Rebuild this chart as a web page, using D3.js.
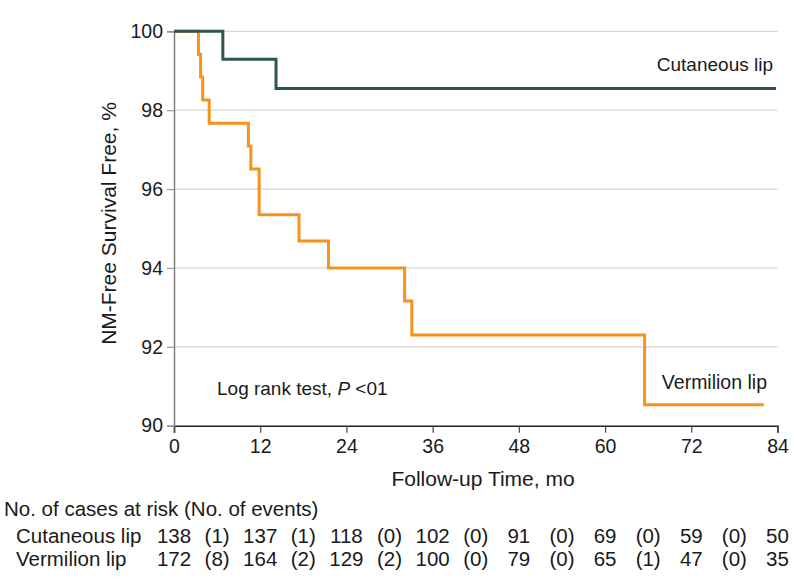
<!DOCTYPE html>
<html>
<head>
<meta charset="utf-8">
<script src="https://cdn.jsdelivr.net/npm/d3@7"></script>
<style>
  html, body { margin: 0; padding: 0; background: #fff; }
  svg { display: block; font-family: "Liberation Sans", Arial, sans-serif; }
</style>
</head>
<body>
<svg id="chart" width="794" height="588"></svg>
<script>
// ---- data ----
const cutaneousTimes = [0, 6.8, 14.2, 83.8];
const cutaneousSurvival = [100, 99.29, 98.55, 98.55];

const vermilionTimes = [0, 3.4, 3.7, 4.0, 4.9, 10.35, 10.7, 11.85, 17.4, 21.5, 32.1, 33.1, 65.5, 82.1];
const vermilionSurvival = [100, 99.42, 98.84, 98.26, 97.67, 97.09, 96.51, 95.35, 94.68, 94.0, 93.16, 92.3, 90.53, 90.53];

const xTicks = [0, 12, 24, 36, 48, 60, 72, 84];
const yTicks = [90, 92, 94, 96, 98, 100];

const riskTimes = [0, 12, 24, 36, 48, 60, 72, 84];
const cutaneousAtRisk = [138, 137, 118, 102, 91, 69, 59, 50];
const cutaneousEvents = [1, 1, 0, 0, 0, 0, 0];
const vermilionAtRisk = [172, 164, 129, 100, 79, 65, 47, 35];
const vermilionEvents = [8, 2, 2, 0, 0, 1, 0];

const seriesNames = ["Cutaneous lip", "Vermilion lip"];

// ---- layout ----
const svg = d3.select("#chart");
const plotLeft = 174, plotRight = 777.5, plotTop = 31.3, plotBottom = 425.7;
const x = d3.scaleLinear().domain([0, 84]).range([plotLeft, plotRight]);
const y = d3.scaleLinear().domain([90, 100]).range([plotBottom, plotTop]);
const textColor = "#1a1a1a";

// gridlines
svg.append("g").selectAll("line")
  .data(yTicks.filter(d => d > 90))
  .join("line")
  .attr("x1", plotLeft).attr("x2", plotRight)
  .attr("y1", d => y(d)).attr("y2", d => y(d))
  .attr("stroke", "#d6d6d6").attr("stroke-width", 1.3);

// x axis
const xAxis = svg.append("g").attr("transform", `translate(0,${plotBottom})`)
  .call(d3.axisBottom(x).tickValues(xTicks).tickSize(7).tickPadding(6));
xAxis.select(".domain").attr("stroke", "#222").attr("stroke-width", 1.5);
xAxis.selectAll(".tick line").attr("stroke", "#444").attr("stroke-width", 1.2);
xAxis.selectAll(".tick text").attr("font-size", 19.5).attr("fill", textColor)
  .attr("font-family", "Liberation Sans, Arial, sans-serif");

// y axis
const yAxis = svg.append("g").attr("transform", `translate(${plotLeft},0)`)
  .call(d3.axisLeft(y).tickValues(yTicks).tickSize(7).tickPadding(4).tickFormat(d3.format("d")));
yAxis.select(".domain").attr("stroke", "#7f7f7f").attr("stroke-width", 1.5);
yAxis.selectAll(".tick line").attr("stroke", "#9a9a9a").attr("stroke-width", 1.2);
yAxis.selectAll(".tick text").attr("font-size", 19.5).attr("fill", textColor)
  .attr("font-family", "Liberation Sans, Arial, sans-serif");

// curves
const line = d3.line()
  .x(d => x(d[0])).y(d => y(d[1]))
  .curve(d3.curveStepAfter);

const cutData = cutaneousTimes.map((t, i) => [t, cutaneousSurvival[i]]);
const verData = vermilionTimes.map((t, i) => [t, vermilionSurvival[i]]);

svg.append("path").datum(verData)
  .attr("d", line).attr("fill", "none")
  .attr("stroke", "#f6921e").attr("stroke-width", 3);
svg.append("path").datum(cutData)
  .attr("d", line).attr("fill", "none")
  .attr("stroke", "#2e5653").attr("stroke-width", 3);

// series labels
svg.append("text").attr("x", 773).attr("y", 71)
  .attr("text-anchor", "end").attr("font-size", 19).attr("fill", textColor)
  .text(seriesNames[0]);
svg.append("text").attr("x", 767).attr("y", 389)
  .attr("text-anchor", "end").attr("font-size", 19.5).attr("fill", textColor)
  .text(seriesNames[1]);

// log rank annotation
const lr = svg.append("text").attr("x", 217).attr("y", 395)
  .attr("font-size", 19).attr("fill", textColor);
lr.append("tspan").text("Log rank test, ");
lr.append("tspan").attr("font-style", "italic").text("P");
lr.append("tspan").text(" <01");

// axis titles
svg.append("text")
  .attr("transform", `translate(116,${(plotTop + plotBottom) / 2 - 5}) rotate(-90)`)
  .attr("text-anchor", "middle").attr("font-size", 21).attr("fill", textColor)
  .text("NM-Free Survival Free, %");
svg.append("text").attr("x", 483).attr("y", 486)
  .attr("text-anchor", "middle").attr("font-size", 21).attr("fill", textColor)
  .text("Follow-up Time, mo");

// risk table
const tfs = 20.5;
svg.append("text").attr("x", 4).attr("y", 516)
  .attr("font-size", tfs).attr("fill", textColor)
  .text("No. of cases at risk (No. of events)");

const rows = [
  { name: seriesNames[0], risk: cutaneousAtRisk, events: cutaneousEvents, yy: 543 },
  { name: seriesNames[1], risk: vermilionAtRisk, events: vermilionEvents, yy: 566 }
];
rows.forEach(r => {
  const g = svg.append("g");
  g.append("text").attr("x", 16).attr("y", r.yy)
    .attr("font-size", tfs).attr("fill", textColor).text(r.name);
  g.selectAll("text.risk").data(r.risk).join("text").attr("class", "risk")
    .attr("x", (d, i) => x(riskTimes[i])).attr("y", r.yy)
    .attr("text-anchor", "middle").attr("font-size", tfs).attr("fill", textColor)
    .text(d => d);
  g.selectAll("text.ev").data(r.events).join("text").attr("class", "ev")
    .attr("x", (d, i) => x((riskTimes[i] + riskTimes[i + 1]) / 2)).attr("y", r.yy)
    .attr("text-anchor", "middle").attr("font-size", tfs).attr("fill", textColor)
    .text(d => `(${d})`);
});
</script>
</body>
</html>
